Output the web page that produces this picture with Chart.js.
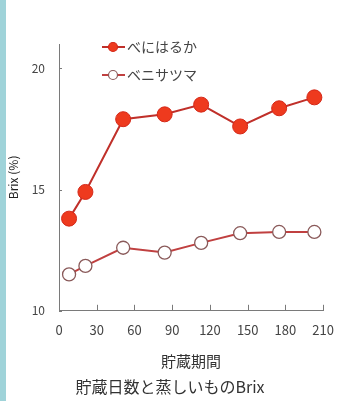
<!DOCTYPE html>
<html>
<head>
<meta charset="utf-8">
<script src="https://cdn.jsdelivr.net/npm/chart.js@4/dist/chart.umd.min.js"></script>
<style>
  html, body { margin: 0; padding: 0; background: #fff; }
  #wrap { width: 339px; height: 401px; border-left: 6px solid #9fd3d9; }
</style>
</head>
<body>
<div id="wrap"><canvas id="brixChart" width="339" height="401"></canvas></div>
<script>
// storage days (x) and Brix % for each variety
const days = [8, 21, 51, 84, 113, 144, 175, 203];
const beniharuka = [13.8, 14.9, 17.9, 18.1, 18.5, 17.6, 18.35, 18.8];
const benisatsuma = [11.5, 11.85, 12.6, 12.4, 12.8, 13.2, 13.25, 13.25];
const seriesNames = ['べにはるか', 'ベニサツマ'];
const xTitle = '貯蔵期間';
const yTitle = 'Brix (%)';
const caption = '貯蔵日数と蒸しいものBrix';

const textColor = '#444';
const axisColor = '#7a7a7a';
const fontFamily = '"Noto Sans CJK JP", "Noto Sans", sans-serif';

const toPoints = vals => vals.map((v, i) => ({ x: days[i], y: v }));

// small tick marks pointing into the plot, like the original figure
const innerTicks = {
  id: 'innerTicks',
  beforeDatasetsDraw(chart) {
    const { ctx, chartArea, scales: { x, y } } = chart;
    ctx.save();
    ctx.strokeStyle = axisColor;
    ctx.lineWidth = 1;
    ctx.beginPath();
    x.ticks.forEach(t => {
      const px = Math.round(x.getPixelForValue(t.value)) + 0.5;
      ctx.moveTo(px, chartArea.bottom);
      ctx.lineTo(px, chartArea.bottom - 6);
    });
    y.ticks.forEach(t => {
      const py = Math.round(y.getPixelForValue(t.value)) + 0.5;
      ctx.moveTo(chartArea.left, py);
      ctx.lineTo(chartArea.left + 3, py);
    });
    ctx.stroke();
    ctx.restore();
  }
};

// legend drawn inside the plot, line + marker + label
const insideLegend = {
  id: 'insideLegend',
  afterDraw(chart) {
    const { ctx } = chart;
    ctx.save();
    chart.data.datasets.forEach((ds, i) => {
      const y = 47 + i * 28;
      ctx.strokeStyle = ds.borderColor;
      ctx.lineWidth = 2;
      ctx.beginPath();
      ctx.moveTo(96, y);
      ctx.lineTo(119, y);
      ctx.stroke();
      ctx.beginPath();
      ctx.arc(107, y, 4.5, 0, Math.PI * 2);
      ctx.fillStyle = ds.pointBackgroundColor;
      ctx.fill();
      ctx.lineWidth = 1.2;
      ctx.strokeStyle = ds.pointBorderColor;
      ctx.stroke();
      ctx.fillStyle = textColor;
      ctx.font = '14px ' + fontFamily;
      ctx.textBaseline = 'middle';
      ctx.fillText(ds.label, 121, y);
    });
    ctx.restore();
  }
};

new Chart(document.getElementById('brixChart'), {
  type: 'line',
  data: {
    datasets: [
      {
        label: seriesNames[0],
        data: toPoints(beniharuka),
        borderColor: '#c0302a',
        borderWidth: 2,
        pointRadius: 7.5,
        pointBackgroundColor: '#ee3a1e',
        pointBorderColor: '#d42818',
        pointBorderWidth: 1,
        tension: 0
      },
      {
        label: seriesNames[1],
        data: toPoints(benisatsuma),
        borderColor: '#c04040',
        borderWidth: 2,
        pointRadius: 6.5,
        pointBackgroundColor: '#ffffff',
        pointBorderColor: '#8a5a5a',
        pointBorderWidth: 1.3,
        tension: 0
      }
    ]
  },
  options: {
    responsive: false,
    devicePixelRatio: 1,
    animation: false,
    layout: { padding: { top: 44, left: 0, right: 11, bottom: 0 } },
    scales: {
      x: {
        type: 'linear',
        min: 0,
        max: 210,
        afterFit: s => { s.height = 65; },
        ticks: { stepSize: 30, padding: 11, color: textColor, font: { family: fontFamily, size: 13 } },
        grid: { display: false, drawTicks: false },
        border: { display: true, color: axisColor, width: 1 },
        title: { display: true, text: xTitle, color: '#333', padding: { top: 0, bottom: 6 }, font: { family: fontFamily, size: 15 } }
      },
      y: {
        min: 10,
        max: 21,
        afterFit: s => { s.width = 53; },
        afterBuildTicks: s => { s.ticks = s.ticks.filter(t => t.value % 5 === 0); },
        ticks: { stepSize: 5, padding: 14, color: textColor, font: { family: fontFamily, size: 12 } },
        grid: { display: false, drawTicks: false },
        border: { display: true, color: axisColor, width: 1 },
        title: { display: true, text: yTitle, color: '#222', padding: { top: 0, bottom: 0 }, font: { family: fontFamily, size: 12 } }
      }
    },
    plugins: {
      legend: { display: false },
      tooltip: { enabled: false },
      title: {
        display: true,
        position: 'bottom',
        text: caption,
        color: '#333',
        padding: { top: 2, bottom: 4 },
        font: { family: fontFamily, size: 16, weight: 'normal' }
      }
    }
  },
  plugins: [innerTicks, insideLegend]
});
</script>
</body>
</html>
